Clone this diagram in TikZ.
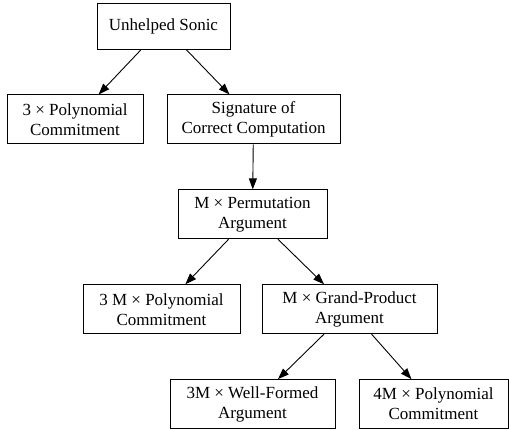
\documentclass[tikz,border=0pt]{standalone}
\usepackage{fontspec}
\setmainfont{Liberation Serif}
\usepackage{tikz}
\usetikzlibrary{arrows.meta, positioning}

\begin{document}
\begin{tikzpicture}[
			node distance=45pt and 0pt,
			every node/.style={draw, rectangle, line width=0.9pt, align=center, inner xsep=12pt, minimum height=49pt, font=\fontsize{17}{20}\selectfont},
			arrow/.style={-{Triangle[length=11pt, width=8pt]}, line width=0.9pt}
			]
			\useasboundingbox (0,0) rectangle (509pt,-430pt);
			
			% Nodes
			\node (sonic) [minimum height=46pt, minimum width=133pt] at (163.5pt,-26pt) {Unhelped Sonic};
			\node (poly3) [below=of sonic, xshift=-88.5pt, minimum width=136pt] {3 × Polynomial\\Commitment};
			\node (sig) [below=of sonic, xshift=90pt, minimum width=173pt] {Signature of\\Correct Computation};
			\node (perm) [below=of sig, xshift=-1pt, minimum width=149pt] {M × Permutation\\Argument};
			\node (polyM) [below=of perm, xshift=-91pt, minimum width=157pt] {3 M × Polynomial\\Commitment};
			\node (grand) [below=of perm, xshift=97pt, minimum width=175pt] {M × Grand-Product\\Argument};
			\node (wellformed) [below=of grand, xshift=-97pt, minimum width=165pt] {3M × Well-Formed\\Argument};
			\node (poly4M) [below=of grand, xshift=84pt, minimum width=149pt] {4M × Polynomial\\Commitment};
			
			% Connections
			\draw [arrow] (sonic) -- (poly3);
			\draw [arrow] (sonic) -- (sig);
			\draw [arrow] (sig) -- (perm);
			\draw [arrow] (perm) -- (polyM);
			\draw [arrow] (perm) -- (grand);
			\draw [arrow] (grand) -- (wellformed);
			\draw [arrow] (grand) -- (poly4M);
			
		\end{tikzpicture}
\end{document}
